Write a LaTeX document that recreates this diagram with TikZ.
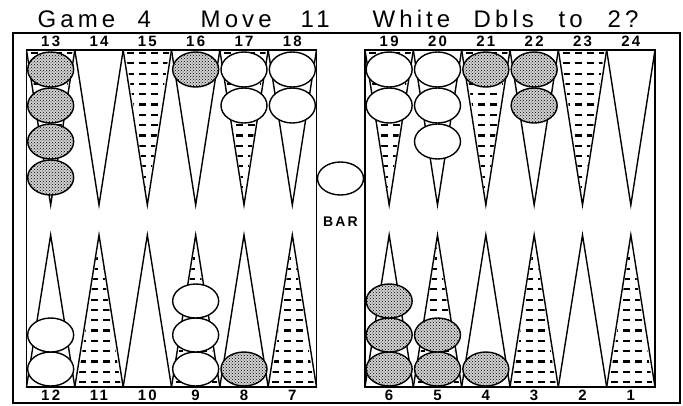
\documentclass[tikz,border=0pt]{standalone}
\usepackage{fontspec}
\setsansfont{Liberation Sans}
\newfontfamily\titlefont{Liberation Sans}[LetterSpace=17]
\newfontfamily\numfont{Liberation Sans}[LetterSpace=15]
\usetikzlibrary{patterns}

\begin{document}
\begin{tikzpicture}[x=1pt,y=-1pt,line width=1.4pt,
  whitechk/.style={draw,fill=white},
  darkchk/.style={draw,preaction={fill=black!18},pattern=crosshatch dots},
  dashrow/.style={line width=2.2pt,dash pattern=on 7pt off 5pt,dash phase=2pt},
  ptlabel/.style={inner sep=0pt,font=\numfont\bfseries\fontsize{15}{15}\selectfont},
  titleword/.style={anchor=base west,inner sep=0pt,font=\titlefont\fontsize{24}{24}\selectfont}]
\useasboundingbox (0,0) rectangle (683,405);

\foreach \x/\w [count=\i] in {37/Game,137/4,200/Move,300/11,372/White,473/Dbls,558/to,607/2?}
  \node[titleword] (t\i) at (\x,27) {\w};

\draw (13,33) rectangle (680,403);
\draw (26.5,50) rectangle (316.5,387);
\draw (365,50) rectangle (655,387);

\foreach \k in {1,...,12}{
  \pgfmathsetmacro\cx{(\k<7 ? 26.5+48.333*(\k-0.5) : 365+48.333*(\k-6.5))}
  \pgfmathtruncatemacro\tp{12+\k}
  \pgfmathtruncatemacro\bp{13-\k}
  \ifodd\k
    \begin{scope}
      \clip (\cx-22,50)--(\cx,200)--(\cx+22,50)--cycle;
      \foreach \r in {0,...,14} \draw[dashrow] (\cx-30,53+10.3*\r)--(\cx+30,53+10.3*\r);
    \end{scope}
  \else
    \begin{scope}
      \clip (\cx-22,387)--(\cx,240)--(\cx+22,387)--cycle;
      \foreach \r in {0,...,14} \draw[dashrow] (\cx-30,382-10.3*\r)--(\cx+30,382-10.3*\r);
    \end{scope}
  \fi
  \draw (\cx-24.17,50)--(\cx,205)--(\cx+24.17,50);
  \draw (\cx-24.17,387)--(\cx,235)--(\cx+24.17,387);
  \node[ptlabel] (p\tp) at (\cx,41) {\tp};
  \node[ptlabel] (p\bp) at (\cx,395) {\bp};
}

\foreach \k/\n/\s in {1/4/darkchk,4/1/darkchk,5/2/whitechk,6/2/whitechk,7/2/whitechk,8/3/whitechk,9/1/darkchk,10/2/darkchk}{
  \pgfmathsetmacro\cx{(\k<7 ? 26.5+48.333*(\k-0.5) : 365+48.333*(\k-6.5))}
  \foreach \j in {1,...,\n}
    \draw[\s] (\cx,69.5+36*\j-36) ellipse [x radius=23,y radius=17.5];
}
\foreach \k/\n/\s in {1/2/whitechk,4/3/whitechk,5/1/darkchk,7/3/darkchk,8/2/darkchk,9/1/darkchk}{
  \pgfmathsetmacro\cx{(\k<7 ? 26.5+48.333*(\k-0.5) : 365+48.333*(\k-6.5))}
  \foreach \j in {1,...,\n}
    \draw[\s] (\cx,369-34*\j+34) ellipse [x radius=23,y radius=17];
}

\draw[whitechk] (340.5,178.5) ellipse [x radius=23,y radius=16.5];
\node[ptlabel,font=\numfont\bfseries\fontsize{14}{14}\selectfont] (bar) at (340.5,222) {BAR};
\end{tikzpicture}
\end{document}
